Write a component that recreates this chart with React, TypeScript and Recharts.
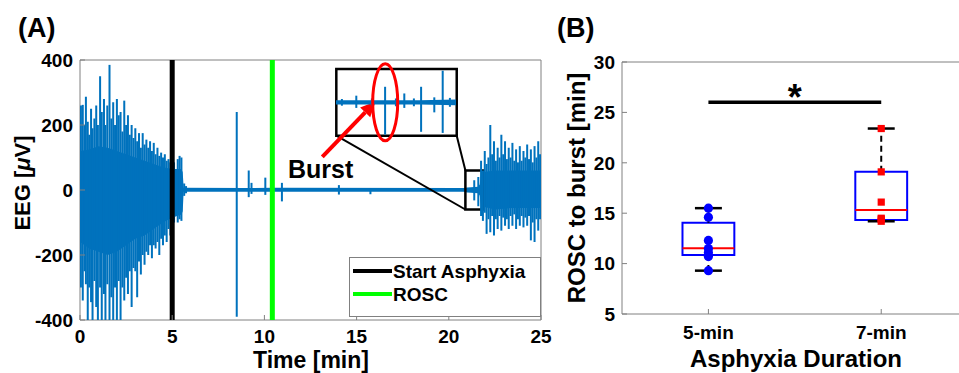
import React from 'react';
import {
  ComposedChart,
  Area,
  Bar,
  Scatter,
  XAxis,
  YAxis,
  ReferenceLine,
  ReferenceArea,
  ReferenceDot,
} from 'recharts';

const FONT = '"Liberation Sans", Arial, Helvetica, sans-serif';
const AXIS_GRAY = '#808080';
const EEG_BLUE = '#0072BD';

// ---------------- Panel A : EEG trace ----------------
// solid core envelope of the trace
const coreTime = [0, 0.5, 1.0, 1.5, 2.0, 2.5, 3.0, 3.5, 4.0, 4.5, 5.0, 5.5, 5.57, 5.62, 9.0, 10.5, 11.0, 20.8, 21.0, 21.6, 21.68, 21.75, 22.5, 23.5, 24.5, 25.0];
const coreHigh = [120, 125, 135, 130, 120, 110, 100, 90, 80, 70, 65, 65, 55, 7, 6, 7, 7, 6, 8, 10, 18, 55, 60, 60, 60, 60];
const coreLow = [-160, -180, -190, -200, -190, -170, -150, -140, -120, -100, -85, -75, -65, -5, -5, -5, -5, -5, -8, -10, -18, -50, -60, -55, -55, -55];

// individual excursions (spikes) of the trace
const spikeTime = [
  0.05, 0.15, 0.25, 0.32, 0.42, 0.5, 0.6, 0.68, 0.78, 0.88,
  0.97, 1.09, 1.18, 1.3, 1.38, 1.48, 1.6, 1.7, 1.8, 1.9,
  2.0, 2.1, 2.2, 2.3, 2.4, 2.5, 2.6, 2.7, 2.8, 2.9,
  3.0, 3.1, 3.2, 3.3, 3.4, 3.5, 3.6, 3.7, 3.8, 3.9,
  4.0, 4.1, 4.2, 4.3, 4.4, 4.5, 4.6, 4.7, 4.8, 4.9,
  5.1, 5.3, 5.4, 5.5, 5.65, 5.75,
  8.5, 9.15, 9.3, 10.05, 10.95, 14.04, 15.75, 21.38, 21.6,
  21.75, 21.85, 21.95, 22.05, 22.15, 22.25, 22.35, 22.45, 22.55, 22.65,
  22.75, 22.85, 22.95, 23.05, 23.15, 23.25, 23.35, 23.45, 23.55, 23.65,
  23.75, 23.85, 23.95, 24.05, 24.15, 24.25, 24.35, 24.45, 24.55, 24.65,
  24.75, 24.85, 24.95,
];
const spikeHigh = [
  260, 262, 200, 287, 210, 170, 250, 190, 220, 260,
  200, 350, 240, 280, 200, 260, 385, 220, 270, 200,
  280, 230, 240, 180, 275, 200, 230, 170, 200, 160,
  190, 150, 175, 130, 175, 140, 155, 130, 150, 120,
  145, 110, 130, 105, 115, 100, 110, 90, 95, 85,
  85, 95, 105, 100, 20, 12,
  240, 60, 22, 38, 22, 15, 5, 30, 40,
  90, 60, 120, 80, 100, 200, 110, 150, 90, 130,
  100, 170, 110, 150, 95, 130, 100, 145, 90, 125,
  85, 135, 90, 120, 100, 140, 95, 125, 85, 135,
  100, 150, 110,
];
const spikeLow = [
  -300, -340, -250, -290, -420, -300, -345, -420, -280, -360,
  -420, -300, -420, -320, -420, -290, -420, -330, -420, -300,
  -400, -280, -420, -300, -340, -270, -320, -250, -360, -240,
  -250, -330, -220, -260, -200, -230, -190, -200, -170, -210,
  -170, -180, -160, -200, -150, -170, -140, -160, -120, -140,
  -100, -100, -90, -95, -18, -10,
  -390, -22, -12, -15, -35, -14, -13, -32, -50,
  -80, -95, -70, -135, -90, -130, -80, -140, -90, -120,
  -80, -125, -85, -110, -90, -120, -80, -110, -75, -120,
  -90, -110, -80, -115, -85, -110, -80, -155, -100, -160,
  -90, -125, -90,
];

const timeTicks = [0, 5, 10, 15, 20, 25];
const eegTicks = [-400, -200, 0, 200, 400];
const asphyxiaStartMin = 5;
const roscMin = 10.43;

// zoomed window (data units) and where its magnified copy sits (data units of panel A)
const zoomWindow = { t0: 20.9, t1: 21.9, v0: -60, v1: 60 };
const insetFrame = { t0: 13.9, t1: 20.43, v0: 167, v1: 372 };

// magnified trace inside the inset
const insetCoreTime = [20.9, 21.3, 21.6, 21.9];
const insetCoreHigh = [4, 4, 4, 5];
const insetCoreLow = [-4, -4, -4, -5];
const insetSpikeTime = [20.95, 21.07, 21.2, 21.31, 21.4, 21.47, 21.55, 21.61, 21.72, 21.79, 21.85];
const insetSpikeHigh = [6, 12, 7, 28, 7, 16, 7, 28, 9, 57, 8];
const insetSpikeLow = [-6, -10, -7, -58, -7, -10, -7, -53, -18, -55, -8];
const burstTime = 21.31;

const arrowFrom = { t: 13.14, v: 102 };
const arrowTo = { t: 16.03, v: 272 };

const legendItems = [
  { label: 'Start Asphyxia', color: '#000000' },
  { label: 'ROSC', color: '#00FF00' },
];

// ---------------- Panel B : box plots ----------------
const groups = ['5-min', '7-min'];
const points5min = [15.5, 14.6, 12.3, 11.5, 11.1, 10.7, 9.3];
const points7min = [23.4, 19.1, 16.1, 14.5, 14.4, 14.2];
const boxQ1 = [10.85, 14.33];
const boxMedian = [11.52, 15.32];
const boxQ3 = [14.06, 19.12];
const whiskerLow = [9.3, 14.2];
const whiskerHigh = [15.5, 23.4];
const rTicks = [5, 10, 15, 20, 25, 30];
const significanceLevel = 26;

// ---------------------------------------------------------------------------------
function mergeTrace(cT: number[], cH: number[], cL: number[], sT: number[], sH: number[], sL: number[]) {
  const rows: any[] = [];
  cT.forEach((t, i) => rows.push({ t, core: [cL[i], cH[i]] }));
  sT.forEach((t, i) => rows.push({ t, spike: [sL[i], sH[i]] }));
  rows.sort((a, b) => a.t - b.t);
  return rows;
}
const eegData = mergeTrace(coreTime, coreHigh, coreLow, spikeTime, spikeHigh, spikeLow);
const insetData = mergeTrace(insetCoreTime, insetCoreHigh, insetCoreLow, insetSpikeTime, insetSpikeHigh, insetSpikeLow);
const scatter5 = points5min.map((y) => ({ x: 1, y }));
const scatter7 = points7min.map((y) => ({ x: 2, y }));

const tickStyle = { fill: '#000', fontSize: 19, fontWeight: 'bold', fontFamily: FONT } as any;

// thin vertical stroke for one excursion of the trace, centred on the bar slot
const SpikeShape = (p: any) => {
  if (p.height == null || p.y == null || p.x == null) return <g />;
  const top = Math.min(p.y, p.y + p.height);
  const h = Math.abs(p.height);
  const cx = p.x + (p.width || 0) / 2;
  return <rect x={cx - 1} y={top} width={2} height={h} fill={EEG_BLUE} />;
};

const ArrowShape = (p: any) => {
  const { x1, y1, x2, y2 } = p;
  const ang = Math.atan2(y2 - y1, x2 - x1);
  const L = 15;
  const W = 7;
  const bx = x2 - L * Math.cos(ang);
  const by = y2 - L * Math.sin(ang);
  const px = -Math.sin(ang) * W;
  const py = Math.cos(ang) * W;
  return (
    <g>
      <line x1={x1} y1={y1} x2={bx} y2={by} stroke="#FF0000" strokeWidth={4} />
      <polygon points={`${x2},${y2} ${bx + px},${by + py} ${bx - px},${by - py}`} fill="#FF0000" />
    </g>
  );
};

const EllipseShape = (p: any) => (
  <ellipse cx={p.cx} cy={p.cy} rx={12.5} ry={38.5} fill="none" stroke="#FF0000" strokeWidth={3} />
);

const CircleShape = (p: any) => <circle cx={p.cx} cy={p.cy} r={4.6} fill="#0000FF" />;
const SquareShape = (p: any) => <rect x={p.cx - 3.6} y={p.cy - 3.6} width={7.2} height={7.2} fill="#FF0000" />;
const StarShape = (p: any) => (
  <text x={p.cx} y={p.cy + 8} textAnchor="middle" fontSize={36} fontWeight="bold" fontFamily={FONT} fill="#000">
    *
  </text>
);

function PanelA() {
  return (
    <ComposedChart
      width={560}
      height={373}
      data={eegData}
      margin={{ top: 60, right: 19, bottom: 0, left: 0 }}
      barGap={0}
      barCategoryGap={0}
    >
      <XAxis
        dataKey="t"
        type="number"
        domain={[0, 25]}
        ticks={timeTicks}
        interval={0}
        allowDataOverflow
        height={53}
        axisLine={false}
        tickLine={{ stroke: AXIS_GRAY }}
        tickSize={-5}
        tickMargin={15}
        tick={tickStyle}
      />
      <YAxis
        type="number"
        domain={[-400, 400]}
        ticks={eegTicks}
        interval={0}
        allowDataOverflow
        width={80}
        axisLine={false}
        tickLine={{ stroke: AXIS_GRAY }}
        tickSize={-5}
        tickMargin={12}
        tick={tickStyle}
      />
      <ReferenceArea x1={0} x2={25} y1={-400} y2={400} fill="none" stroke={AXIS_GRAY} strokeWidth={1} ifOverflow="visible" />
      <Area
        dataKey="core"
        type="linear"
        stroke="none"
        fill={EEG_BLUE}
        fillOpacity={1}
        connectNulls
        dot={false}
        activeDot={false}
        isAnimationActive={false}
      />
      <Bar dataKey="spike" fill={EEG_BLUE} shape={SpikeShape} isAnimationActive={false} />
      <ReferenceLine x={asphyxiaStartMin} stroke="#000000" strokeWidth={5} />
      <ReferenceLine x={roscMin} stroke="#00FF00" strokeWidth={5} />
      <ReferenceArea
        x1={zoomWindow.t0}
        x2={zoomWindow.t1}
        y1={zoomWindow.v0}
        y2={zoomWindow.v1}
        fill="none"
        stroke="#000"
        strokeWidth={2.5}
      />
      <ReferenceArea
        x1={insetFrame.t0}
        x2={insetFrame.t1}
        y1={insetFrame.v0}
        y2={insetFrame.v1}
        fill="none"
        stroke="#000"
        strokeWidth={2.5}
      />
      <ReferenceLine
        segment={[
          { x: insetFrame.t0, y: insetFrame.v0 },
          { x: zoomWindow.t0, y: zoomWindow.v0 },
        ]}
        stroke="#000"
        strokeWidth={2}
      />
      <ReferenceLine
        segment={[
          { x: insetFrame.t1, y: insetFrame.v0 },
          { x: zoomWindow.t0, y: zoomWindow.v1 },
        ]}
        stroke="#000"
        strokeWidth={2}
      />
      <ReferenceLine
        segment={[
          { x: arrowFrom.t, y: arrowFrom.v },
          { x: arrowTo.t, y: arrowTo.v },
        ]}
        shape={ArrowShape}
      />
    </ComposedChart>
  );
}

function Inset() {
  return (
    <ComposedChart
      width={160}
      height={107}
      data={insetData}
      margin={{ top: 20, right: 20, bottom: 20.3, left: 20 }}
      barGap={0}
      barCategoryGap={0}
    >
      <XAxis dataKey="t" type="number" domain={[zoomWindow.t0, zoomWindow.t1]} hide allowDataOverflow />
      <YAxis type="number" domain={[zoomWindow.v0, zoomWindow.v1]} hide allowDataOverflow />
      <Area
        dataKey="core"
        type="linear"
        stroke="none"
        fill={EEG_BLUE}
        fillOpacity={1}
        connectNulls
        dot={false}
        activeDot={false}
        isAnimationActive={false}
      />
      <Bar dataKey="spike" fill={EEG_BLUE} shape={SpikeShape} isAnimationActive={false} />
      <ReferenceDot x={burstTime} y={0} r={0} shape={EllipseShape} ifOverflow="visible" />
    </ComposedChart>
  );
}

function PanelB() {
  const boxHalf = 0.15;
  const capHalf = 0.078;
  return (
    <ComposedChart width={399} height={373} margin={{ top: 62, right: 0, bottom: 0, left: 0 }}>
      <XAxis
        dataKey="x"
        type="number"
        domain={[0.5, 2.45]}
        ticks={[1, 2]}
        interval={0}
        allowDataOverflow
        height={59}
        axisLine={{ stroke: AXIS_GRAY }}
        tickLine={{ stroke: AXIS_GRAY }}
        tickSize={-5}
        tickMargin={17}
        tick={tickStyle}
        tickFormatter={(v: number) => groups[v - 1]}
      />
      <YAxis
        dataKey="y"
        type="number"
        domain={[5, 30]}
        ticks={rTicks}
        interval={0}
        allowDataOverflow
        width={62}
        axisLine={{ stroke: AXIS_GRAY }}
        tickLine={{ stroke: AXIS_GRAY }}
        tickSize={-5}
        tickMargin={12}
        tick={tickStyle}
      />
      <ReferenceLine y={30} stroke={AXIS_GRAY} strokeWidth={1} />
      {groups.map((g, i) => {
        const x = i + 1;
        return (
          <React.Fragment key={g}>
            <ReferenceLine
              segment={[{ x, y: boxQ3[i] }, { x, y: whiskerHigh[i] }]}
              stroke="#000"
              strokeWidth={2}
              strokeDasharray="6 4"
            />
            <ReferenceLine
              segment={[{ x, y: boxQ1[i] }, { x, y: whiskerLow[i] }]}
              stroke="#000"
              strokeWidth={2}
              strokeDasharray="6 4"
            />
            <ReferenceLine
              segment={[{ x: x - capHalf, y: whiskerHigh[i] }, { x: x + capHalf, y: whiskerHigh[i] }]}
              stroke="#000"
              strokeWidth={2.5}
            />
            <ReferenceLine
              segment={[{ x: x - capHalf, y: whiskerLow[i] }, { x: x + capHalf, y: whiskerLow[i] }]}
              stroke="#000"
              strokeWidth={2.5}
            />
            <ReferenceArea
              x1={x - boxHalf}
              x2={x + boxHalf}
              y1={boxQ1[i]}
              y2={boxQ3[i]}
              fill="none"
              stroke="#0000FF"
              strokeWidth={2}
            />
            <ReferenceLine
              segment={[{ x: x - boxHalf, y: boxMedian[i] }, { x: x + boxHalf, y: boxMedian[i] }]}
              stroke="#FF0000"
              strokeWidth={2}
            />
          </React.Fragment>
        );
      })}
      <ReferenceLine
        segment={[{ x: 1, y: significanceLevel }, { x: 2, y: significanceLevel }]}
        stroke="#000"
        strokeWidth={3.5}
      />
      <ReferenceDot x={1.5} y={significanceLevel} r={0} shape={StarShape} ifOverflow="visible" />
      <Scatter data={scatter5} dataKey="y" shape={CircleShape} isAnimationActive={false} />
      <Scatter data={scatter7} dataKey="y" shape={SquareShape} isAnimationActive={false} />
    </ComposedChart>
  );
}

function Overlay() {
  return (
    <svg
      width={959}
      height={373}
      style={{ position: 'absolute', left: 0, top: 0, pointerEvents: 'none' }}
      fontFamily={FONT}
      fontWeight="bold"
    >
      <text x={18} y={37} fontSize={27} fill="#000">(A)</text>
      <text x={557} y={37} fontSize={27} fill="#000">(B)</text>
      <text transform="translate(30,183) rotate(-90)" textAnchor="middle" fontSize={22} fill="#000">
        EEG [<tspan fontStyle="italic">μ</tspan>V]
      </text>
      <text x={311} y={368} textAnchor="middle" fontSize={23} fill="#000">Time [min]</text>
      <text transform="translate(585,188) rotate(-90)" textAnchor="middle" fontSize={24} fill="#000">
        ROSC to burst [min]
      </text>
      <text x={796} y={367} textAnchor="middle" fontSize={24} fill="#000">Asphyxia Duration</text>
      <text x={288} y={178} fontSize={25} fill="#000">Burst</text>
      <rect x={349.5} y={257.5} width={191} height={59} fill="#fff" stroke={AXIS_GRAY} strokeWidth={1} />
      {legendItems.map((it, i) => (
        <g key={it.label}>
          <line x1={353} x2={392} y1={271 + i * 23} y2={271 + i * 23} stroke={it.color} strokeWidth={4} />
          <text x={393} y={278 + i * 23} fontSize={19} fill="#000">{it.label}</text>
        </g>
      ))}
    </svg>
  );
}

export default function App() {
  return (
    <div style={{ position: 'absolute', left: 0, top: 0, width: 959, height: 373, background: '#fff', overflow: 'hidden' }}>
      <div style={{ position: 'absolute', left: 0, top: 0 }}>
        <PanelA />
      </div>
      <div style={{ position: 'absolute', left: 316, top: 49 }}>
        <Inset />
      </div>
      <div style={{ position: 'absolute', left: 560, top: 0 }}>
        <PanelB />
      </div>
      <Overlay />
    </div>
  );
}
